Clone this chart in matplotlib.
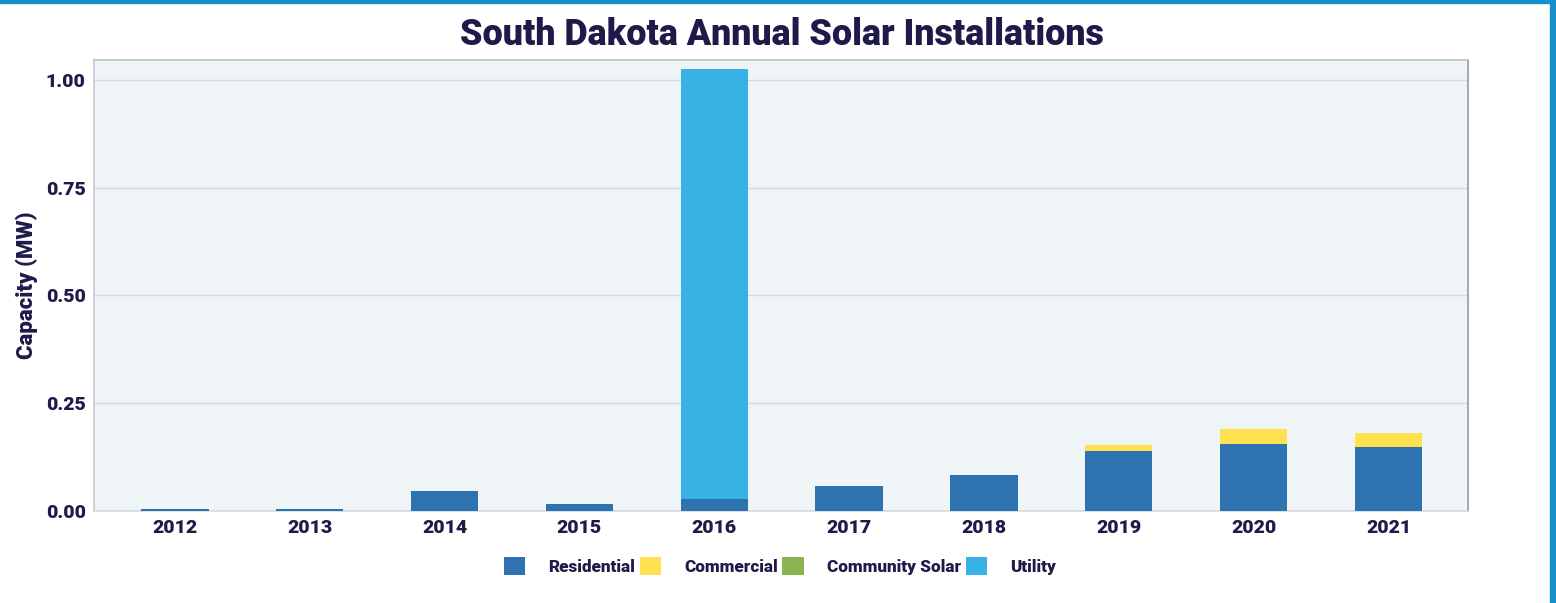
import numpy as np
import matplotlib
matplotlib.use("Agg")
from matplotlib import pyplot as plt
from matplotlib.patches import Patch, Rectangle

years = ["2012", "2013", "2014", "2015", "2016", "2017", "2018", "2019", "2020", "2021"]
residential = [0.004, 0.004, 0.047, 0.016, 0.028, 0.058, 0.084, 0.138, 0.156, 0.148]
commercial = [0.0, 0.0, 0.0, 0.0, 0.0, 0.0, 0.0, 0.015, 0.034, 0.033]
community = [0.0, 0.0, 0.0, 0.0, 0.0, 0.0, 0.0, 0.0, 0.0, 0.0]
utility = [0.0, 0.0, 0.0, 0.0, 0.998, 0.0, 0.0, 0.0, 0.0, 0.0]

series = [
    ("Residential", residential, "#2E72B0"),
    ("Commercial", commercial, "#FFE04F"),
    ("Community Solar", community, "#8AB44F"),
    ("Utility", utility, "#38B2E4"),
]

NAVY = "#1E1A4A"
W = 900
plt.rcParams["font.family"] = ["Roboto", "DejaVu Sans"]
plt.rcParams["font.weight"] = W

fig = plt.figure(figsize=(15.56, 6.03), dpi=100)
ax = fig.add_axes([94 / 1556, 92 / 603, 1374 / 1556, 451 / 603])
ax.set_facecolor("#EFF4F7")

x = np.arange(len(years))
bottom = np.zeros(len(years))
for name, vals, color in series:
    vals = np.array(vals)
    ax.bar(x, vals, 0.5, bottom=bottom, color=color, label=name, zorder=3)
    bottom += vals

ax.set_xlim(-0.6, 9.59)
ax.set_ylim(0, 1.046)
ax.set_yticks([0, 0.25, 0.5, 0.75, 1.0])
ax.set_yticklabels(["%.2f" % v for v in [0, 0.25, 0.5, 0.75, 1.0]])
ax.set_xticks(x)
ax.set_xticklabels(years)
ax.tick_params(length=0, labelsize=14, labelcolor=NAVY, pad=6)
for lab in ax.get_xticklabels() + ax.get_yticklabels():
    lab.set_fontweight(W)
ax.grid(axis="y", color="#D3D9DF", linewidth=1, zorder=0)

ax.spines["left"].set_color("#C3CBD3")
ax.spines["bottom"].set_color("#D5DBE0")
ax.spines["top"].set_color("#B8C2CC")
ax.spines["right"].set_color("#8C9CAD")
for s in ax.spines.values():
    s.set_linewidth(1.2)

ax.set_ylabel("Capacity (MW)", fontsize=16, fontweight=W, color=NAVY)
ax.yaxis.set_label_coords(-56 / 1374, 0.5)
fig.text(782 / 1556, 1 - 35 / 603, "South Dakota Annual Solar Installations",
         ha="center", va="center", fontsize=25.8, fontweight=W, color=NAVY)

handles = [Patch(facecolor=c, edgecolor="none") for _, _, c in series]
labels = [n for n, _, _ in series]
fig.legend(handles, labels, loc="center", bbox_to_anchor=(780 / 1556, 1 - 566 / 603),
           ncol=4, frameon=False, handlelength=1.27, handleheight=1.27,
           handletextpad=1.35, columnspacing=0.25, labelcolor=NAVY,
           prop={"weight": W, "size": 12.3})

# blue frame (top and right edges)
fig.patches.append(Rectangle((0, 1 - 3 / 603), 1, 3 / 603, transform=fig.transFigure,
                             color="#1590CC", zorder=10))
fig.patches.append(Rectangle((1550 / 1556, 0), 6 / 1556, 1, transform=fig.transFigure,
                             color="#1590CC", zorder=10))

fig.savefig("out.png", dpi=100)
